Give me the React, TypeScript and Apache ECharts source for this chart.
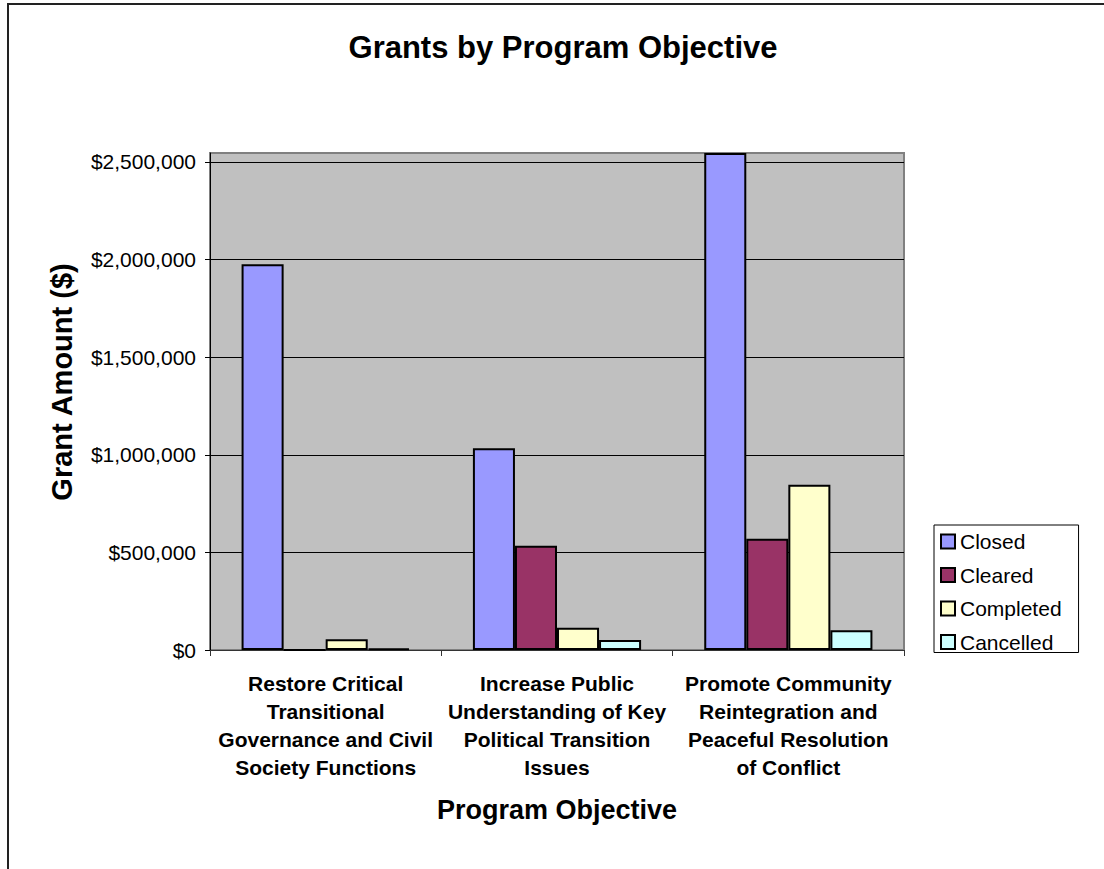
import React, { useEffect, useRef } from "react";
import * as echarts from "echarts";

const categories = [
  "Restore Critical\nTransitional\nGovernance and Civil\nSociety Functions",
  "Increase Public\nUnderstanding of Key\nPolitical Transition\nIssues",
  "Promote Community\nReintegration and\nPeaceful Resolution\nof Conflict",
];
const seriesNames = ["Closed", "Cleared", "Completed", "Cancelled"];
const closed = [1976000, 1033000, 2546000];
const cleared = [0, 534000, 570000];
const completed = [55000, 114000, 847000];
const cancelled = [8000, 51000, 101000];
const yTicks = [0, 500000, 1000000, 1500000, 2000000, 2500000];
const colors = ["#9999FF", "#993366", "#FFFFCC", "#CCFFFF"];

const FONT = "'Liberation Sans', Arial, Helvetica, sans-serif";

export default function App() {
  const ref = useRef<HTMLDivElement>(null);
  useEffect(() => {
    if (!ref.current) return;
    const chart = echarts.init(ref.current, null, { renderer: "svg" });
    const values = [closed, cleared, completed, cancelled];
    chart.setOption({
      animation: false,
      backgroundColor: "#ffffff",
      textStyle: { fontFamily: FONT, color: "#000" },
      title: {
        text: "Grants by Program Objective",
        left: 558,
        textAlign: "center",
        top: 27,
        textStyle: { fontFamily: FONT, fontSize: 31, fontWeight: "bold", color: "#000" },
      },
      legend: {
        orient: "vertical",
        left: 934,
        top: 525,
        padding: [6, 17, 0, 6],
        itemGap: 12.5,
        itemWidth: 14,
        itemHeight: 14,
        borderColor: "#000",
        borderWidth: 1,
        backgroundColor: "#fff",
        icon: "rect",
        itemStyle: { borderColor: "#000", borderWidth: 2 },
        textStyle: { fontFamily: FONT, fontSize: 21, color: "#000" },
        data: seriesNames,
      },
      grid: {
        left: 210,
        top: 153,
        width: 694,
        height: 497,
        show: true,
        backgroundColor: "#C0C0C0",
        borderColor: "#808080",
        borderWidth: 2,
        containLabel: false,
        outerBoundsMode: "none",
      },
      xAxis: {
        type: "category",
        data: categories,
        axisLine: { lineStyle: { color: "#333", width: 1 } },
        axisTick: { show: true, length: 6, lineStyle: { color: "#333" }, alignWithLabel: false },
        axisLabel: {
          interval: 0,
          margin: 19,
          fontFamily: FONT,
          fontSize: 21,
          fontWeight: "bold",
          lineHeight: 28,
          color: "#000",
          align: "center",
        },
        splitLine: { show: false },
      },
      yAxis: {
        type: "value",
        min: 0,
        max: 2546000,
        interval: 500000,
        axisLine: { show: true, lineStyle: { color: "#000", width: 1 } },
        axisTick: { show: true, length: 5, lineStyle: { color: "#000" }, customValues: yTicks },
        axisLabel: {
          margin: 14,
          fontFamily: FONT,
          fontSize: 21,
          color: "#000",
          customValues: yTicks,
          formatter: (v: number) => "$" + Math.round(v).toLocaleString("en-US"),
        },
        splitLine: { show: true, lineStyle: { color: "#000", width: 1 } },
      },
      series: seriesNames.map((name, i) => ({
        name,
        type: "bar",
        data: values[i],
        barGap: "0%",
        barCategoryGap: "27.3%",
        itemStyle: { color: colors[i], borderColor: "#000", borderWidth: 2 },
      })),
      graphic: [
        {
          type: "rect",
          shape: { x: 8, y: 4, width: 1300, height: 1000 },
          style: { fill: "none", stroke: "#222", lineWidth: 2 },
          silent: true,
          z: 100,
        },
        {
          type: "text",
          x: 62,
          y: 382,
          rotation: Math.PI / 2,
          style: {
            text: "Grant Amount ($)",
            fontFamily: FONT,
            fontSize: 29,
            fontWeight: "bold",
            fill: "#000",
            textAlign: "center",
            textVerticalAlign: "middle",
          },
        },
        {
          type: "text",
          x: 557,
          y: 810,
          style: {
            text: "Program Objective",
            fontFamily: FONT,
            fontSize: 27,
            fontWeight: "bold",
            fill: "#000",
            textAlign: "center",
            textVerticalAlign: "middle",
          },
        },
      ],
    });
    return () => chart.dispose();
  }, []);
  return (
    <div
      ref={ref}
      style={{ position: "fixed", left: 0, top: 0, width: 1104, height: 869, background: "#fff" }}
    />
  );
}
